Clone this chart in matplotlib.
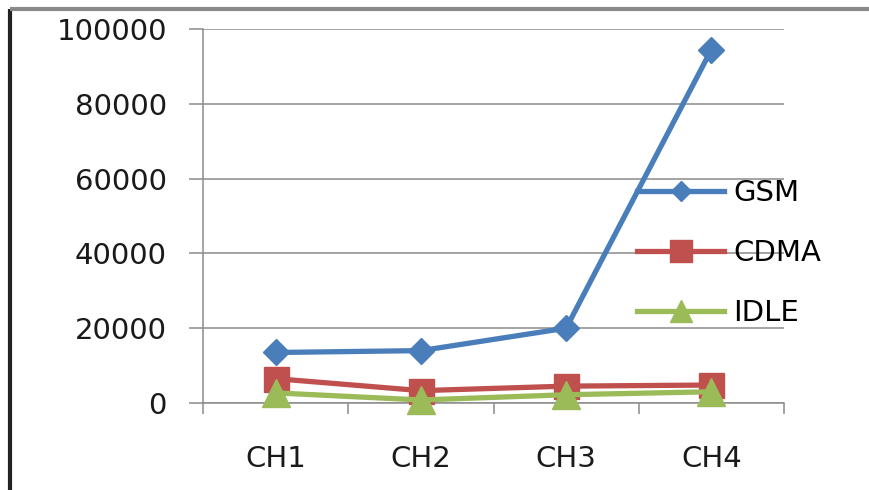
import matplotlib
matplotlib.use("Agg")
import matplotlib.pyplot as plt
from matplotlib.lines import Line2D

# channel readings per mode
channels = ["CH1", "CH2", "CH3", "CH4"]
gsm = [13500, 14000, 20000, 94500]
cdma = [6500, 3300, 4500, 4800]
idle = [2700, 800, 2200, 3000]
y_ticks = [0, 20000, 40000, 60000, 80000, 100000]

plt.rcParams["font.family"] = "DejaVu Sans"
plt.rcParams["font.size"] = 21

fig = plt.figure(figsize=(8.69, 4.9), dpi=100)
ax = fig.add_axes([0.2336, 0.1776, 0.9022 - 0.2336, 0.9408 - 0.1776])

x = [i + 0.5 for i in range(len(channels))]
ax.plot(x, gsm, color="#4A7EBB", lw=3.8, marker="D", ms=13, label="GSM", zorder=3, clip_on=False)
ax.plot(x, cdma, color="#C0504D", lw=3.8, marker="s", ms=18, label="CDMA", zorder=4, clip_on=False)
ax.plot(x, idle, color="#9BBB59", lw=3.8, marker="^", ms=20, label="IDLE", zorder=5, clip_on=False)

ax.set_xlim(0, len(channels))
ax.set_ylim(0, 100000)
ax.set_yticks(y_ticks)
ax.set_xticks(x)
ax.set_xticklabels(channels)
ax.set_xticks(range(len(channels) + 1), minor=True)

grid_c = "#8C8C8C"
for v in y_ticks:
    ax.axhline(v, color=grid_c, lw=1.1, zorder=1)
for s in ["top", "right"]:
    ax.spines[s].set_visible(False)
ax.spines["left"].set_color(grid_c)
ax.spines["bottom"].set_color(grid_c)
ax.spines["left"].set_linewidth(1.1)
ax.spines["bottom"].set_linewidth(1.1)
ax.tick_params(axis="y", length=10, width=1.1, color=grid_c, pad=16, labelcolor="#1a1a1a")
ax.tick_params(axis="x", which="major", length=0, pad=30, labelcolor="#1a1a1a")
ax.tick_params(axis="x", which="minor", length=8, width=1.1, color=grid_c)

leg = fig.legend(loc="center left", bbox_to_anchor=(0.733, 0.484), frameon=False,
                 borderpad=0, borderaxespad=0, handlelength=3.0, handletextpad=0.3,
                 labelspacing=1.1, fontsize=21)
for h, ms in zip(leg.legend_handles, [10, 16, 16]):
    h.set_markersize(ms)

# outer frame edges (left and top)
fig.add_artist(Line2D([0.0115, 0.0115], [0, 0.982], transform=fig.transFigure,
                      color="#222222", lw=3, solid_capstyle="butt"))
fig.add_artist(Line2D([0.0115, 1], [0.981, 0.981], transform=fig.transFigure,
                      color="#8a8a8a", lw=3, solid_capstyle="butt"))

fig.savefig("out.png", dpi=100)
